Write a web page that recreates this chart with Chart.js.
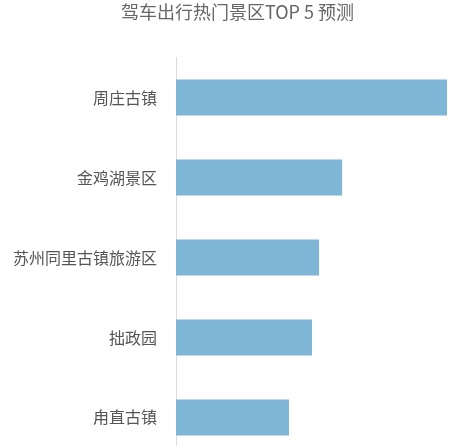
<!DOCTYPE html>
<html>
<head>
<meta charset="utf-8">
<script src="https://cdn.jsdelivr.net/npm/chart.js@4"></script>
<style>
  body { margin: 0; overflow: hidden; background: #fff; }
</style>
</head>
<body>
<canvas id="myChart" width="466" height="478"></canvas>
<script>
    const spots = ['周庄古镇', '金鸡湖景区', '苏州同里古镇旅游区', '拙政园', '甪直古镇'];
    const heat = [100, 61.3, 52.8, 50.2, 41.7];

    const ctx = document.getElementById('myChart');

    // the title sits a little right of the canvas centre in the original
    const shiftTitle = {
        id: 'shiftTitle',
        afterLayout(chart) {
            if (chart.titleBlock) chart.titleBlock.left += 28;
        }
    };

    new Chart(ctx, {
        type: 'bar',
        data: {
            labels: spots,
            datasets: [{
                data: heat,
                backgroundColor: 'rgb(127,181,213)',
                barPercentage: 0.45,
                categoryPercentage: 1
            }]
        },
        plugins: [shiftTitle],
        options: {
            indexAxis: 'y',
            responsive: false,
            animation: false,
            layout: {
                padding: { left: 0, right: 19, top: 0, bottom: 3 }
            },
            plugins: {
                legend: { display: false },
                tooltip: { enabled: false },
                title: {
                    display: true,
                    text: '驾车出行热门景区TOP 5 预测',
                    color: '#666',
                    font: { family: '"Noto Sans CJK SC", sans-serif', size: 18, weight: 'normal' },
                    padding: { top: 1, bottom: 35 }
                }
            },
            scales: {
                x: {
                    display: false,
                    min: 0,
                    max: 100
                },
                y: {
                    afterFit(scale) { scale.width = 176; },
                    grid: { display: false },
                    border: { display: true, color: '#ddd', width: 1 },
                    ticks: {
                        color: '#555',
                        padding: 11,
                        font: { family: '"Noto Sans CJK SC", sans-serif', size: 16 }
                    }
                }
            }
        }
    });
</script>
</body>
</html>
